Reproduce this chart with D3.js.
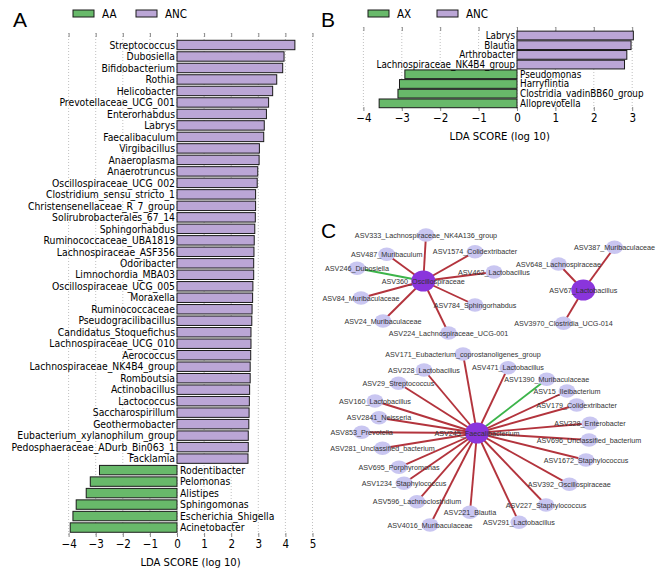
<!DOCTYPE html>
<html><head><meta charset="utf-8">
<script src="https://cdn.jsdelivr.net/npm/d3@7"></script>
<style>body{margin:0;background:#fff}svg{display:block}</style>
</head><body><svg id="c" width="660" height="572"></svg>
<script>
// ---------- Panel A data ----------
const namesANC_A = ["Streptococcus","Dubosiella","Bifidobacterium","Rothia","Helicobacter","Prevotellaceae_UCG_001","Enterorhabdus","Labrys","Faecalibaculum","Virgibacillus","Anaeroplasma","Anaerotruncus","Oscillospiraceae_UCG_002","Clostridium_sensu_stricto_1","Christensenellaceae_R_7_group","Solirubrobacterales_67_14","Sphingorhabdus","Ruminococcaceae_UBA1819","Lachnospiraceae_ASF356","Odoribacter","Limnochordia_MBA03","Oscillospiraceae_UCG_005","Moraxella","Ruminococcaceae","Pseudogracilibacillus","Candidatus_Stoquefichus","Lachnospiraceae_UCG_010","Aerococcus","Lachnospiraceae_NK4B4_group","Romboutsia","Actinobacillus","Lactococcus","Saccharospirillum","Geothermobacter","Eubacterium_xylanophilum_group","Pedosphaeraceae_ADurb_Bin063_1","Facklamia"];
const valuesANC_A = [4.35,3.95,3.90,3.68,3.53,3.38,3.30,3.22,3.20,3.04,3.03,2.98,2.96,2.90,2.90,2.89,2.87,2.85,2.84,2.83,2.83,2.80,2.79,2.77,2.76,2.73,2.73,2.72,2.70,2.70,2.68,2.67,2.66,2.65,2.63,2.63,2.62];
const namesAA = ["Rodentibacter","Pelomonas","Alistipes","Sphingomonas","Escherichia_Shigella","Acinetobacter"];
const valuesAA = [-2.86,-3.20,-3.35,-3.72,-3.84,-3.94];
const ticksA = [-4,-3,-2,-1,0,1,2,3,4,5];
const legendA = ["AA","ANC"];

// ---------- Panel B data ----------
const namesANC_B = ["Labrys","Blautia","Arthrobacter","Lachnospiraceae_NK4B4_group"];
const valuesANC_B = [3.03,2.97,2.86,2.80];
const namesAX = ["Pseudomonas","Harryflintia","Clostridia_vadinBB60_group","Alloprevotella"];
const valuesAX = [-2.92,-3.06,-3.10,-3.59];
const ticksB = [-4,-3,-2,-1,0,1,2,3];
const legendB = ["AX","ANC"];

// ---------- Panel C data (network; layout units) ----------
const hubs = [
  {id:"ASV360", label:"ASV360_Oscillospiraceae", lx:103.3, ly:66},
  {id:"ASV67",  label:"ASV67_Lactobacillus",     lx:263.3, ly:75},
  {id:"ASV245", label:"ASV245_Faecalibacterium", lx:157,   ly:218}
];
const leaves = [
  {hub:"ASV360", label:"ASV333_Lachnospiraceae_NK4A136_group", lx:106, ly:20, sign:1},
  {hub:"ASV360", label:"ASV487_Muribaculum", lx:66.7, ly:39.3, sign:1},
  {hub:"ASV360", label:"ASV1574_Colidextribacter", lx:155, ly:36.7, sign:1},
  {hub:"ASV360", label:"ASV246_Dubosiella", lx:37, ly:53.3, sign:-1},
  {hub:"ASV360", label:"ASV462_Lactobacillus", lx:174, ly:57, sign:1},
  {hub:"ASV360", label:"ASV84_Muribaculaceae", lx:41, ly:83, sign:1},
  {hub:"ASV360", label:"ASV784_Sphingorhabdus", lx:155, ly:90, sign:1},
  {hub:"ASV360", label:"ASV24_Muribaculaceae", lx:63, ly:106, sign:1},
  {hub:"ASV360", label:"ASV224_Lachnospiraceae_UCG-001", lx:128.5, ly:118, sign:1},
  {hub:"ASV67", label:"ASV387_Muribaculaceae", lx:294.5, ly:32.3, sign:1},
  {hub:"ASV67", label:"ASV648_Lachnospiraceae", lx:238.5, ly:49, sign:1},
  {hub:"ASV67", label:"ASV3970_Clostridia_UCG-014", lx:243.5, ly:108.3, sign:1},
  {hub:"ASV245", label:"ASV171_Eubacterium_coprostanoligenes_group", lx:143, ly:139, sign:1},
  {hub:"ASV245", label:"ASV228_Lactobacillus", lx:104, ly:155, sign:1},
  {hub:"ASV245", label:"ASV471_Lactobacillus", lx:188, ly:152.7, sign:1},
  {hub:"ASV245", label:"ASV1390_Muribaculaceae", lx:226.7, ly:164.3, sign:-1},
  {hub:"ASV245", label:"ASV29_Streptococcus", lx:78.5, ly:168.3, sign:1},
  {hub:"ASV245", label:"ASV15_Ileibacterium", lx:247, ly:176, sign:1},
  {hub:"ASV245", label:"ASV160_Lactobacillus", lx:55, ly:186, sign:1},
  {hub:"ASV245", label:"ASV179_Colidextribacter", lx:256.7, ly:190, sign:1},
  {hub:"ASV245", label:"ASV2841_Neisseria", lx:59, ly:202.7, sign:1},
  {hub:"ASV245", label:"ASV328_Enterobacter", lx:270, ly:208.3, sign:1},
  {hub:"ASV245", label:"ASV853_Prevotella", lx:41.7, ly:217.3, sign:1},
  {hub:"ASV245", label:"ASV696_Unclassified_bacterium", lx:269, ly:225, sign:1},
  {hub:"ASV245", label:"ASV281_Unclassified_bacterium", lx:62.5, ly:233.3, sign:1},
  {hub:"ASV245", label:"ASV1672_Staphylococcus", lx:266, ly:245, sign:1},
  {hub:"ASV245", label:"ASV695_Porphyromonas", lx:79, ly:252.3, sign:1},
  {hub:"ASV245", label:"ASV1234_Staphylococcus", lx:84, ly:268.3, sign:1},
  {hub:"ASV245", label:"ASV392_Oscillospiraceae", lx:249.3, ly:269.3, sign:1},
  {hub:"ASV245", label:"ASV596_Lachnoclostridium", lx:97, ly:286.7, sign:1},
  {hub:"ASV245", label:"ASV227_Staphylococcus", lx:226, ly:290, sign:1},
  {hub:"ASV245", label:"ASV221_Blautia", lx:150, ly:297.3, sign:1},
  {hub:"ASV245", label:"ASV4016_Muribaculaceae", lx:110, ly:310, sign:1},
  {hub:"ASV245", label:"ASV291_Lactobacillus", lx:199, ly:307.3, sign:1}
];

const GREEN = "#68b96a", PURPLE = "#bba6d6";
const svg = d3.select("#c");
const DV = "'DejaVu Sans Condensed', 'DejaVu Sans', sans-serif", AR = "'Liberation Sans', Arial, sans-serif";

function lefse(cfg) {
  const g = svg.append("g");
  const x = d3.scaleLinear().domain(cfg.domain).range(cfg.range);
  const names = cfg.posNames.concat(cfg.negNames);
  const vals = cfg.posVals.concat(cfg.negVals);
  const y = d3.scaleBand().domain(names).range(cfg.yRange).paddingInner(cfg.pad).paddingOuter(cfg.pad/2);
  g.selectAll("line.grid").data(cfg.ticks).join("line")
    .attr("x1", d => x(d)).attr("x2", d => x(d))
    .attr("y1", cfg.gridTop).attr("y2", cfg.gridBot)
    .attr("stroke", "#b0b0b0").attr("stroke-width", 0.8).attr("stroke-dasharray", "1,2");
  const top = d3.axisTop(x).tickValues(cfg.ticks).tickSize(4).tickFormat("");
  g.append("g").attr("transform", `translate(0,${cfg.gridTop})`).call(top)
    .call(s => s.select(".domain").remove()).selectAll("line").attr("stroke", "#888").attr("transform","translate(0,4)");
  const bot = d3.axisBottom(x).tickValues(cfg.ticks).tickSize(4).tickPadding(3).tickFormat(d3.format("d"));
  const ba = g.append("g").attr("transform", `translate(0,${cfg.gridBot - 4})`).call(bot);
  ba.select(".domain").remove();
  ba.selectAll("line").attr("stroke", "#888");
  ba.selectAll("text").attr("font-family", DV).attr("font-size", cfg.tickFont).attr("fill", "#000").attr("dy", "0.71em");
  g.selectAll("rect.bar").data(names).join("rect")
    .attr("x", (d,i) => Math.min(x(0), x(vals[i])))
    .attr("width", (d,i) => Math.abs(x(vals[i]) - x(0)))
    .attr("y", d => y(d)).attr("height", y.bandwidth())
    .attr("fill", (d,i) => vals[i] > 0 ? PURPLE : GREEN)
    .attr("stroke", "#1a1a1a").attr("stroke-width", 1);
  g.selectAll("text.lab").data(names).join("text")
    .attr("x", (d,i) => vals[i] > 0 ? x(0) - 2 : x(0) + 3)
    .attr("y", d => y(d) + y.bandwidth()/2)
    .attr("dy", "0.36em")
    .attr("text-anchor", (d,i) => vals[i] > 0 ? "end" : "start")
    .attr("font-family", DV).attr("font-size", cfg.labFont).attr("fill", "#000")
    .text(d => d);
  g.append("text").attr("x", (x.range()[0] + x.range()[1]) / 2).attr("y", cfg.titleY)
    .attr("text-anchor", "middle").attr("font-family", DV).attr("font-size", cfg.titleFont)
    .text("LDA SCORE (log 10)");
  cfg.legend.forEach((name, i) => {
    const lx = cfg.legX[i];
    g.append("rect").attr("x", lx).attr("y", cfg.legY).attr("width", 21).attr("height", 7)
      .attr("fill", i === 0 ? GREEN : PURPLE).attr("stroke", "#1a1a1a").attr("stroke-width", 1);
    g.append("text").attr("x", lx + 29).attr("y", cfg.legY + 3.5).attr("dy", "0.36em")
      .attr("font-family", DV).attr("font-size", 11.5).text(name);
  });
  g.append("text").attr("x", cfg.letter[0]).attr("y", cfg.letter[1])
    .attr("font-family", AR).attr("font-size", 21).text(cfg.letter[2]);
}

lefse({
  domain: [-4.3, 5.3], range: [177 - 4.3*27.1, 177 + 5.3*27.1],
  posNames: namesANC_A, posVals: valuesANC_A, negNames: namesAA, negVals: valuesAA,
  yRange: [39.25, 533.3], pad: 0.18, ticks: ticksA, gridTop: 33, gridBot: 537,
  tickFont: 11.5, labFont: 10.3, titleFont: 11.2, titleY: 566,
  legend: legendA, legX: [73, 136], legY: 10, letter: [13, 27, "A"]
});
lefse({
  domain: [-4.2, 3.3], range: [517 - 4.2*38.4, 517 + 3.3*38.4],
  posNames: namesANC_B, posVals: valuesANC_B, negNames: namesAX, negVals: valuesAX,
  yRange: [30.65, 108.2], pad: 0.1, ticks: ticksB, gridTop: 27, gridBot: 111,
  tickFont: 11.5, labFont: 9.8, titleFont: 11.2, titleY: 140,
  legend: legendB, legX: [368, 437], legY: 10, letter: [321, 27, "B"]
});

// ---------- Panel C network ----------
const xC = d3.scaleLinear().domain([0, 340]).range([320, 660]);
const yC = d3.scaleLinear().domain([0, 357]).range([215, 572]);
const hubById = new Map(hubs.map(h => [h.id, h]));
const gc = svg.append("g");
gc.append("text").attr("x", 321).attr("y", 238).attr("font-family", AR).attr("font-size", 21).text("C");
gc.selectAll("line.edge").data(leaves).join("line")
  .attr("x1", d => xC(hubById.get(d.hub).lx)).attr("y1", d => yC(hubById.get(d.hub).ly))
  .attr("x2", d => xC(d.lx)).attr("y2", d => yC(d.ly))
  .attr("stroke", d => d.sign > 0 ? "#b3343d" : "#3cb44a").attr("stroke-width", 1.9);
gc.selectAll("ellipse.leaf").data(leaves).join("ellipse")
  .attr("cx", d => xC(d.lx)).attr("cy", d => yC(d.ly)).attr("rx", 8.5).attr("ry", 6.8)
  .attr("fill", "#c9c6f1");
gc.selectAll("ellipse.hub").data(hubs).join("ellipse")
  .attr("cx", d => xC(d.lx)).attr("cy", d => yC(d.ly)).attr("rx", 12).attr("ry", 10.5)
  .attr("fill", "#8a35dc");
gc.selectAll("text.nl").data(leaves.concat(hubs)).join("text")
  .attr("x", d => xC(d.lx)).attr("y", d => yC(d.ly)).attr("dy", "0.35em")
  .attr("text-anchor", "middle").attr("font-family", AR).attr("font-size", 7.2)
  .attr("fill", "#333").text(d => d.label);
</script></body></html>
